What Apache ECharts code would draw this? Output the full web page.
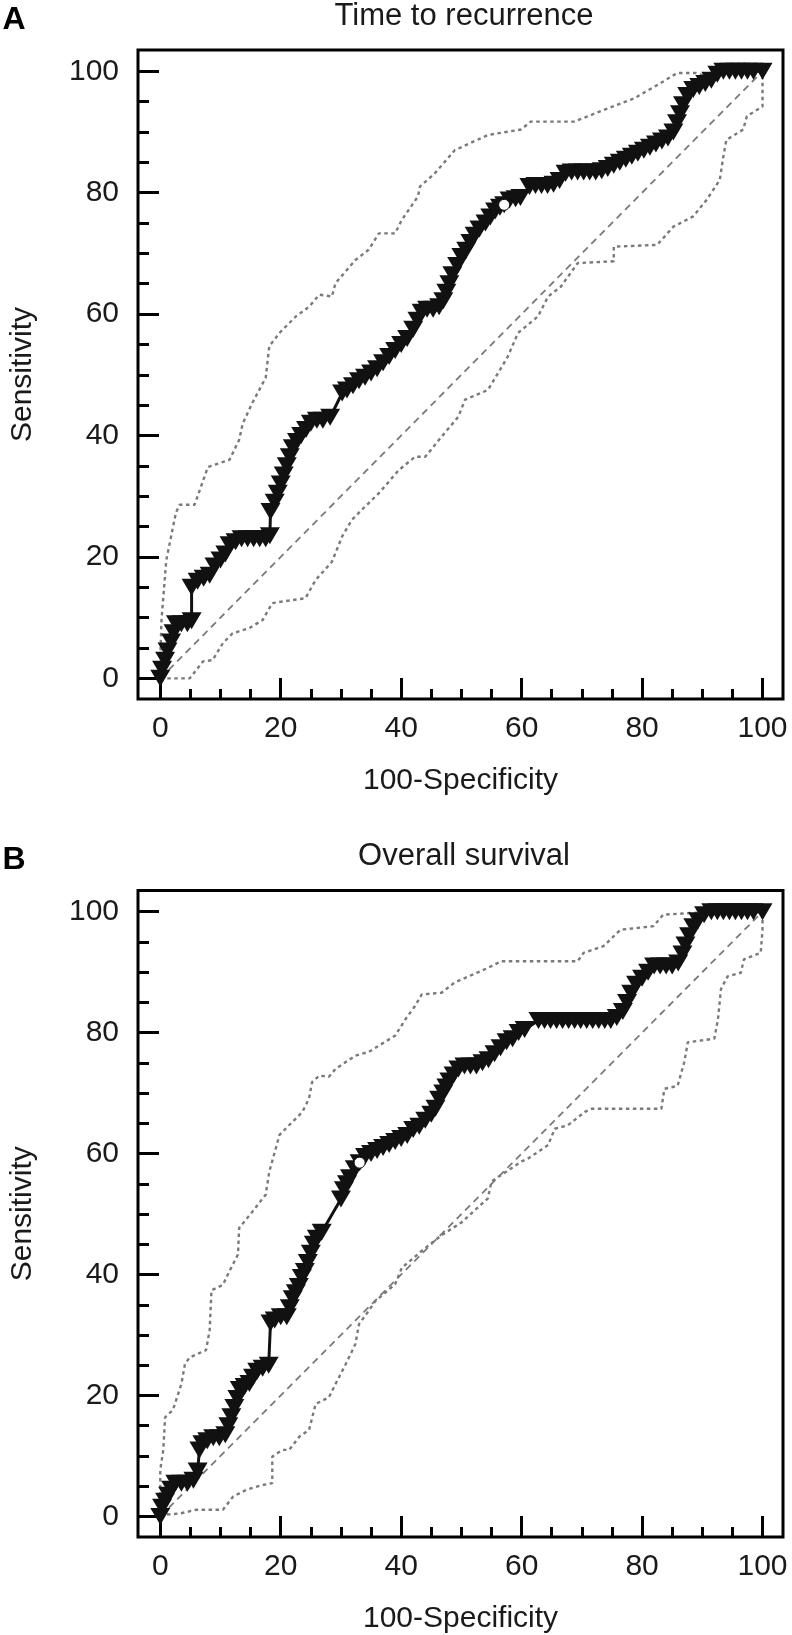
<!DOCTYPE html>
<html>
<head>
<meta charset="utf-8">
<script src="https://cdn.jsdelivr.net/npm/echarts@6/dist/echarts.min.js"></script>
<style>
html,body{margin:0;padding:0;background:#fff;}
#chart{width:792px;height:1635px;}
</style>
</head>
<body>
<div id="chart"></div>
<script>
// ---- data ----
const panelLetters = ['A', 'B'];
const panelTitles = ['Time to recurrence', 'Overall survival'];
const xAxisTitle = '100-Specificity';
const yAxisTitle = 'Sensitivity';
const majorTicks = [0, 20, 40, 60, 80, 100];
const minorTicks = [5, 10, 15, 25, 30, 35, 45, 50, 55, 65, 70, 75, 85, 90, 95];
const diagonal = [[0, 0], [100, 100]];

// Panel A: ROC curve points (100-Specificity, Sensitivity)
const rocA = [
  [0,0],[0.3,1.5],[0.8,3],[1.2,4.5],[1.8,6],[2.2,7.5],[2.6,9],[3.5,9],[4.5,9],[5.2,9.5],
  [5.2,15],[6.2,16],[7.2,16.5],[8.2,17],[9,18.5],[10,19.5],[10.8,20.5],[11.5,22],[12.5,22.5],[13.5,23],
  [14.5,23],[15.5,23],[16.5,23],[17.5,23],[18.2,23.5],
  [18.3,27.5],[19,29],[19.5,30.5],[20,32],[20.5,33.5],[21,35],[21.5,36.5],[22,38],[22.7,39],[23.4,40],
  [24.2,41],[25,42],[26,42.5],[27,42.5],[28.2,43],
  [30.2,47],[31,47.5],[32,48.2],[33,49],[34,49.6],[35,50.3],[36,51],[37,52],[38,53],[39,54],[40,55],
  [41,56],[42,57.5],[42.7,59],[43.4,60.3],[44.3,60.8],[45.3,60.8],[46.3,61.2],[47,62.2],[47.5,63.6],
  [48,65],[48.5,66.5],[49.3,68],[50,69.5],[50.8,70.5],[51.5,71.8],[52.2,73],[53,74],[54,75],[54.8,76],
  [55.6,77],[56.4,77.6],[57.1,78],[58,78.8],[59,79],[59.8,79.2],
  [61.3,81],[62.3,81.2],[63.3,81.2],[64.3,81.2],[65.3,81.4],[66.3,82],[67.3,83.2],[68.3,83.4],[69.3,83.4],
  [70.3,83.4],[71.3,83.4],[72.3,83.4],[73.3,83.6],[74.3,84],[75.3,84.5],[76.3,85],[77.3,85.5],[78.3,86],
  [79.3,86.5],[80.3,87],[81.3,87.5],[82.3,88],[83.3,88.5],[84.3,89],[85.2,90],[85.8,91.5],[86.3,93],
  [86.8,94.5],[87.5,96],[88.5,97],[89.5,97.5],[90.5,98],[91.5,98.5],[92.5,99.5],[93.5,100],[94.5,100],
  [95.5,100],[96.5,100],[97.5,100],[98.5,100],[100,100]
];
const upperA = [
  [0,0],[0,3],[0.2,9.6],[1,19.5],[2.6,27.3],[3.2,28.6],[5.7,28.6],[7.9,34.8],[11.5,36],[13.1,39.3],
  [13.7,42],[15.3,45.4],[17.5,49.5],[18.1,54.7],[19.8,56.9],[22.5,59.6],[24.7,61.2],[26.4,63.2],[28.5,62.9],
  [29.1,65.1],[32.4,68.9],[34.6,70.6],[36.3,73.3],[39,73.3],[40.1,75.5],[42.8,79.4],[43.1,81],[45.6,83.2],
  [48.9,87],[54.4,89.5],[59.9,90.4],[61.5,91.7],[68.7,91.7],[73.6,93.6],[78.6,95.5],[83,98],[85.8,99.7],
  [89,99.7],[90.7,99.1],[91.8,100],[100,100]
];
const lowerA = [
  [0,0],[1.6,0],[4.9,0],[7.1,2.8],[8.7,3],[10.4,5.8],[12,7.4],[14.8,8.3],[17,9.6],[18.6,12.4],[24.1,13.2],
  [25.8,16.2],[28.5,19.2],[30.2,23.4],[31.8,26.1],[33.5,27.8],[36.3,30.5],[39.6,34.3],[42.3,36.5],[44,36.5],
  [46.7,39.8],[49.5,43.1],[50.6,45.9],[54.4,47.5],[56.1,50.3],[57.7,53],[59.4,56.9],[62.7,59.6],[64.4,62.9],
  [66.5,64.5],[69.3,68.4],[75.3,68.7],[75.3,71.1],[82.5,71.4],[85.2,74.4],[88.5,76.1],[90.7,78.8],[92.9,82.1],
  [93.5,86],[94,88.7],[96.8,90.4],[97.4,92.6],[100,94.2],[100,100]
];
const optimalA = [[57.1, 78]];

// Panel B
const rocB = [
  [0,0],[0.3,1.5],[0.8,2.5],[1.3,3.5],[1.8,4.5],[2.5,5.5],[3.5,5.5],[4.5,5.5],[5.5,6],[6.2,7.5],
  [6.5,11],[7,12],[7.8,12.5],[8.8,13],[9.8,13],[10.8,13.5],[11.3,15],[11.8,16.5],[12.3,18],[12.8,19.5],
  [13.2,21],[14,21.5],[14.8,22],[15.4,23],[16.1,24],[17,24.5],[18,25],
  [18.3,32],[19,32.5],[20,33],[21,33],[21.5,34.5],[22,36],[22.5,37],[23,38],[23.5,39.5],[24,40.5],
  [24.5,42],[25,43.5],[25.5,45],[26,46],[26.8,47],
  [30,52.5],[30.5,54],[31,55],[31.5,56],[32.3,57.5],[33.1,58.5],[34,59.5],[35,60],[36,60.5],[37,61],
  [38,61.5],[39,62],[40,62.5],[41,63],[42,64],[43,64.5],[44,65.5],[45,66.5],[45.7,67.5],[46.3,69],
  [47,70],[47.5,71],[48,72],[48.7,73],[49.5,74],[50.5,74.5],[51.5,74.5],[52.5,74.5],[53.5,75],[54.5,75.5],
  [55.5,76.5],[56.5,77.5],[57.5,78.5],[58.5,79],[59.5,80],[60.5,80.5],
  [62.8,82],[63.8,82],[64.8,82],[65.8,82],[66.8,82],[67.8,82],[68.8,82],[69.8,82],[70.8,82],[71.8,82],
  [72.8,82],[73.8,82],[74.8,82],[75.8,82.5],[76.8,83.5],[77.5,85],[78.2,86.5],[79,88],[80,89],[81,90],
  [82,91],[83,91],[84,91],[85,91],[86,91.5],[86.7,93],[87.2,94.5],[87.8,96],[88.5,97.5],[89.3,98.5],
  [90.3,99.5],[91.5,100],[92.5,100],[93.5,100],[94.5,100],[95.5,100],[96.5,100],[97.5,100],[98.5,100],[100,100]
];
const upperB = [
  [0,0],[0,1.1],[0,7.7],[0.5,11],[0.8,16.4],[2.1,17.6],[3.5,21.9],[4.1,25.2],[4.9,26.3],[7.6,27.5],
  [8.2,30.8],[8.5,37.4],[10.4,38.3],[11.5,40.6],[12.9,43.3],[13.1,47.7],[15.3,50.4],[17.5,53.2],[18.1,57],
  [19.8,63.1],[23.6,66.9],[24.7,69.1],[25.2,71.8],[26.4,72.9],[28,72.7],[29.1,74],[32.4,76.2],[34.6,76.8],
  [39,79.5],[40.7,82.2],[42.3,84.4],[43.4,86.3],[46.7,86.6],[48.9,88.3],[54.4,90.7],[56.6,91.8],[69.3,91.8],
  [70.3,93.2],[73.6,94.3],[76.4,97],[81.9,97.6],[83.5,99.5],[88.5,99.8],[100,100]
];
const lowerB = [
  [0,0],[1,0.3],[3.3,0.5],[6,1.1],[10.4,1.1],[12.1,3.3],[14.3,4.4],[17,5.2],[18.6,5.5],[18.6,9.9],
  [20.3,11],[21.4,11],[23.1,13.2],[24.7,14.3],[25.8,18.6],[28,19.7],[29.1,21.9],[30.8,25.2],[32.4,28.5],
  [33,31.8],[34.6,34],[35.7,35.6],[39,38.4],[40.1,41.1],[43.4,43.9],[46.7,46.5],[50,48.6],[54.4,52.6],
  [55,55.4],[60,58.7],[61.1,59.2],[64.4,61.4],[65.5,64.1],[67.7,64.7],[70.5,66.9],[71.6,67.4],[83.2,67.4],
  [83.7,70.7],[85.9,71.2],[87,75.1],[87.6,78.4],[92,79],[92.6,82.2],[93.1,87.2],[94.2,89.3],[96.4,89.9],
  [96.9,92.1],[99.7,93.2],[100,97],[100,100]
];
const optimalB = [[33.1, 58.5]];

// ---- chart ----
const FONT = '"Liberation Sans", Arial, Helvetica, sans-serif';
const TXT = '#1a1a1a';
const GREY = '#7a7a7a';
const gridTops = [50, 890.5];
const panels = [
  {roc: rocA, up: upperA, lo: lowerA, opt: optimalA},
  {roc: rocB, up: upperB, lo: lowerB, opt: optimalB}
];

const grid = [], xAxis = [], yAxis = [], series = [], graphic = [];
const XMIN = -3.7, XMAX = 103.4, YMIN = -3.4, YMAX = 103.5;
const noLine = {show: false, onZero: false};

panels.forEach((p, i) => {
  grid.push({left: 134, top: gridTops[i], width: 649, height: 649, show: true,
    borderColor: '#000', borderWidth: 3, backgroundColor: 'transparent'});
  // major x axis
  xAxis.push({gridIndex: i, type: 'value', min: XMIN, max: XMAX, position: 'bottom',
    axisLine: noLine, splitLine: {show: false},
    axisTick: {show: true, inside: true, length: 21, customValues: majorTicks, lineStyle: {color: '#000', width: 3}},
    axisLabel: {show: true, customValues: majorTicks, fontSize: 30, color: TXT, fontFamily: FONT, margin: 15},
    name: xAxisTitle, nameLocation: 'middle', nameGap: 67,
    nameTextStyle: {fontSize: 30, color: TXT, fontFamily: FONT}});
  // minor x axis
  xAxis.push({gridIndex: i, type: 'value', min: XMIN, max: XMAX, position: 'bottom',
    axisLine: noLine, splitLine: {show: false},
    axisTick: {show: true, inside: true, length: 10, customValues: minorTicks, lineStyle: {color: '#000', width: 3}},
    axisLabel: {show: false}});
  yAxis.push({gridIndex: i, type: 'value', min: YMIN, max: YMAX, position: 'left',
    axisLine: noLine, splitLine: {show: false},
    axisTick: {show: true, inside: true, length: 21, customValues: majorTicks, lineStyle: {color: '#000', width: 3}},
    axisLabel: {show: true, customValues: majorTicks, fontSize: 30, color: TXT, fontFamily: FONT, margin: 19},
    name: yAxisTitle, nameLocation: 'middle', nameGap: 100, nameRotate: 90,
    nameTextStyle: {fontSize: 30, color: TXT, fontFamily: FONT}});
  yAxis.push({gridIndex: i, type: 'value', min: YMIN, max: YMAX, position: 'left',
    axisLine: noLine, splitLine: {show: false},
    axisTick: {show: true, inside: true, length: 11, customValues: minorTicks, lineStyle: {color: '#000', width: 3}},
    axisLabel: {show: false}});

  const xi = i * 2, yi = i * 2;
  series.push({type: 'line', xAxisIndex: xi, yAxisIndex: yi, data: diagonal, symbol: 'none', z: 2,
    lineStyle: {color: GREY, width: 1.8, type: [7, 5]}, silent: true});
  series.push({type: 'line', xAxisIndex: xi, yAxisIndex: yi, data: p.up, symbol: 'none', z: 2,
    lineStyle: {color: GREY, width: 2.4, type: [3.5, 3.5]}, silent: true});
  series.push({type: 'line', xAxisIndex: xi, yAxisIndex: yi, data: p.lo, symbol: 'none', z: 2,
    lineStyle: {color: GREY, width: 2.4, type: [3.5, 3.5]}, silent: true});
  series.push({type: 'line', xAxisIndex: xi, yAxisIndex: yi, data: p.roc, z: 5,
    symbol: 'triangle', symbolRotate: 180, symbolSize: [20, 17], showAllSymbol: true,
    itemStyle: {color: '#111'}, lineStyle: {color: '#111', width: 3}, silent: true});
  series.push({type: 'scatter', xAxisIndex: xi, yAxisIndex: yi, data: p.opt, z: 10,
    symbol: 'circle', symbolSize: 11,
    itemStyle: {color: '#fff', borderColor: '#111', borderWidth: 1, opacity: 1}, silent: true});

  graphic.push({type: 'text', x: 14, y: gridTops[i] - 30, z: 100,
    style: {text: panelLetters[i], fontSize: 32, fontWeight: 'bold', fontFamily: FONT, fill: '#000',
      align: 'center', verticalAlign: 'middle'}});
  graphic.push({type: 'text', x: 464, y: gridTops[i] - 34, z: 100,
    style: {text: panelTitles[i], fontSize: 31, fontFamily: FONT, fill: TXT,
      align: 'center', verticalAlign: 'middle'}});
});

const chart = echarts.init(document.getElementById('chart'), null, {renderer: 'canvas'});
chart.setOption({animation: false, backgroundColor: '#fff', grid, xAxis, yAxis, series, graphic});
</script>
</body>
</html>
